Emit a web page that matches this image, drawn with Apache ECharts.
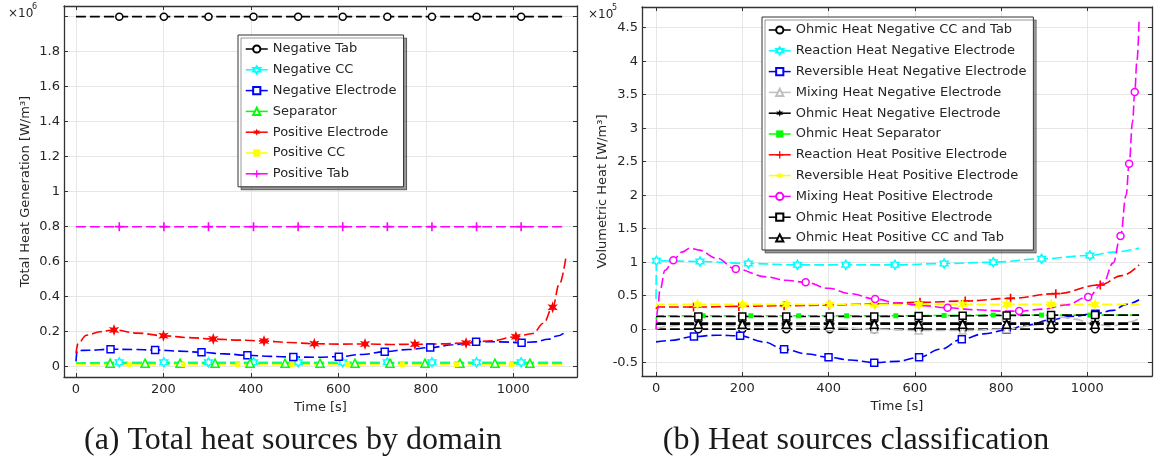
<!DOCTYPE html>
<html><head><meta charset="utf-8">
<script src="https://cdn.jsdelivr.net/npm/echarts@6/dist/echarts.min.js"></script>
<style>html,body{margin:0;padding:0;background:#fff}#c{width:1154px;height:465px}</style>
</head><body><div id="c"></div>
<script>
// ---------- (a) Total heat sources by domain, values in 10^6 W/m^3 ----------
const aTabT    = [0, 99, 201, 303, 406, 508, 610, 712, 814, 916, 1018, 1120];
const aTabM    = [99, 201, 303, 406, 508, 610, 712, 814, 916, 1018];
const aNegTabV = [2.0, 2.0, 2.0, 2.0, 2.0, 2.0, 2.0, 2.0, 2.0, 2.0, 2.0, 2.0];
const aPosTabV = [0.8, 0.8, 0.8, 0.8, 0.8, 0.8, 0.8, 0.8, 0.8, 0.8, 0.8, 0.8];
const aNegCCV  = [0.02, 0.025, 0.025, 0.025, 0.025, 0.025, 0.025, 0.025, 0.025, 0.025, 0.025, 0.025];

const aSepT = [0, 78, 158, 238, 318, 398, 478, 558, 638, 718, 798, 878, 958, 1038, 1120];
const aSepV = [0.02, 0.02, 0.02, 0.02, 0.02, 0.02, 0.02, 0.02, 0.02, 0.02, 0.02, 0.02, 0.02, 0.02, 0.02];
const aSepM = [78, 158, 238, 318, 398, 478, 558, 638, 718, 798, 878, 958, 1038];

const aPosCCT = [0, 122, 246, 370, 494, 621, 746, 870, 995, 1120];
const aPosCCV = [0.012, 0.012, 0.012, 0.012, 0.012, 0.012, 0.012, 0.012, 0.012, 0.012];
const aPosCCM = [122, 246, 370, 494, 621, 746, 870, 995];

const aNegElT = [0, 3, 30, 79, 130, 181, 235, 287, 340, 392, 445, 497, 550, 601, 655, 706, 760, 810, 862, 915, 968, 1019, 1050, 1080, 1100, 1120];
const aNegElV = [0.03, 0.092, 0.094, 0.1, 0.098, 0.095, 0.089, 0.082, 0.073, 0.065, 0.059, 0.055, 0.054, 0.057, 0.07, 0.086, 0.098, 0.109, 0.125, 0.143, 0.142, 0.137, 0.142, 0.157, 0.175, 0.2];
const aNegElM = [79, 181, 287, 392, 497, 601, 706, 810, 915, 1019];

const aPosElT = [0, 5, 24, 55, 87, 140, 200, 257, 314, 372, 430, 488, 545, 603, 661, 718, 775, 834, 892, 950, 1006, 1045, 1069, 1090, 1105, 1120];
const aPosElV = [0.076, 0.134, 0.18, 0.2, 0.21, 0.192, 0.177, 0.166, 0.158, 0.152, 0.147, 0.138, 0.131, 0.129, 0.13, 0.127, 0.128, 0.13, 0.135, 0.148, 0.171, 0.19, 0.248, 0.339, 0.47, 0.62];
const aPosElM = [87, 200, 314, 430, 545, 661, 775, 892, 1006, 1090];

// ---------- (b) Heat sources classification, values in 10^5 W/m^3 ----------
const bBlkT = [0, 98, 200, 302, 403, 506, 609, 711, 813, 916, 1018, 1120];
const bBlkM = [98, 200, 302, 403, 506, 609, 711, 813, 916, 1018];
const bOhmNegCCV = [0, 0, 0, 0, 0, 0, 0, 0, 0, 0, 0, 0];
const bOhmNegElV = [0.09, 0.09, 0.09, 0.09, 0.09, 0.09, 0.09, 0.09, 0.09, 0.09, 0.09, 0.09];
const bOhmPosElV = [0.19, 0.19, 0.19, 0.19, 0.19, 0.19, 0.195, 0.2, 0.205, 0.21, 0.21, 0.21];
const bOhmPosCCV = [0.075, 0.075, 0.075, 0.075, 0.075, 0.075, 0.075, 0.075, 0.075, 0.075, 0.075, 0.075];

const bReacNegT = [0, 1, 102, 214, 328, 440, 554, 668, 782, 894, 1006, 1060, 1120];
const bReacNegV = [0.45, 1.02, 1.01, 0.98, 0.96, 0.96, 0.96, 0.98, 1.0, 1.05, 1.1, 1.15, 1.21];
const bReacNegM = [1, 102, 214, 328, 440, 554, 668, 782, 894, 1006];

const bRevNegT = [0, 32, 88, 140, 195, 250, 297, 350, 400, 450, 506, 560, 610, 660, 709, 760, 813, 860, 916, 960, 1019, 1060, 1090, 1120];
const bRevNegV = [-0.19, -0.17, -0.11, -0.09, -0.1, -0.19, -0.3, -0.37, -0.42, -0.46, -0.5, -0.48, -0.42, -0.3, -0.15, -0.07, -0.01, 0.06, 0.14, 0.19, 0.23, 0.28, 0.37, 0.44];
const bRevNegM = [88, 195, 297, 400, 506, 610, 709, 813, 916, 1019];

const bMixNegT = [0, 20, 60, 98, 200, 302, 403, 506, 609, 711, 813, 880, 916, 940, 970, 1018, 1060, 1100, 1120];
const bMixNegV = [0.0, 0.04, 0.06, 0.06, 0.05, 0.05, 0.03, 0.0, -0.02, -0.02, 0.0, 0.06, 0.14, 0.18, 0.15, 0.07, 0.05, 0.11, 0.16];

const bOhmSepT = [0, 3, 109, 220, 331, 442, 556, 668, 782, 894, 1006, 1120];
const bOhmSepV = [0.15, 0.2, 0.2, 0.2, 0.2, 0.2, 0.2, 0.205, 0.21, 0.21, 0.21, 0.21];
const bOhmSepM = [109, 220, 331, 442, 556, 668, 782, 894, 1006];

const bReacPosT = [0, 3, 87, 192, 297, 402, 507, 612, 717, 822, 927, 1030, 1080, 1120];
const bReacPosV = [0.3, 0.33, 0.33, 0.34, 0.35, 0.36, 0.38, 0.4, 0.42, 0.46, 0.53, 0.66, 0.8, 0.96];
const bReacPosM = [87, 192, 297, 402, 507, 612, 717, 822, 927, 1030];

const bRevPosT = [0, 3, 96, 200, 302, 403, 506, 609, 711, 813, 916, 1018, 1120];
const bRevPosV = [0.33, 0.37, 0.37, 0.37, 0.37, 0.37, 0.37, 0.37, 0.37, 0.37, 0.37, 0.37, 0.37];
const bRevPosM = [96, 200, 302, 403, 506, 609, 711, 813, 916, 1018];

const bMixPosT = [0, 4, 9, 21, 40, 60, 79, 100, 140, 185, 257, 300, 347, 400, 450, 508, 560, 620, 676, 740, 800, 842, 900, 950, 1002, 1037, 1060, 1077, 1090, 1097, 1105, 1110, 1115, 1120];
const bMixPosV = [0.0, 0.3, 0.58, 0.88, 1.03, 1.15, 1.21, 1.18, 1.06, 0.9, 0.78, 0.73, 0.7, 0.61, 0.53, 0.45, 0.39, 0.35, 0.32, 0.29, 0.27, 0.27, 0.3, 0.36, 0.48, 0.69, 0.99, 1.39, 2.0, 2.47, 3.1, 3.54, 4.0, 4.6];
const bMixPosM = [40, 185, 347, 508, 676, 842, 1002, 1077, 1097, 1110];

const xTitle = 'Time [s]';
const aYTitle = 'Total Heat Generation [W/m³]';
const bYTitle = 'Volumetric Heat [W/m³]';

// ---------- symbols ----------
const STAR6 = 'path://M0,-10L2.2,-3.8L8.66,-5L4.4,0L8.66,5L2.2,3.8L0,10L-2.2,3.8L-8.66,5L-4.4,0L-8.66,-5L-2.2,-3.8Z';
const HEXA = 'path://M0,-10L2.885,-5L8.66,-5L5.77,0L8.66,5L2.885,5L0,10L-2.885,5L-8.66,5L-5.77,0L-8.66,-5L-2.885,-5Z';
const PLUS = 'path://M-1.8,-10L1.8,-10L1.8,-1.8L10,-1.8L10,1.8L1.8,1.8L1.8,10L-1.8,10L-1.8,1.8L-10,1.8L-10,-1.8L-1.8,-1.8Z';

const FONT = 'DejaVu Sans';
const TXT = '#262626';

function pts(T, V, M) {
  return T.map((t, i) => M.indexOf(t) >= 0 ? { value: [t, V[i]] } : { value: [t, V[i]], symbol: 'none' });
}
function ser(name, g, T, V, M, color, symbol, size, hollow) {
  return {
    name, type: 'line', xAxisIndex: g * 2, yAxisIndex: g * 2,
    data: pts(T, V, M), smooth: 0.4, smoothMonotone: 'x',
    showSymbol: true, showAllSymbol: true, symbol, symbolSize: size, symbolKeepAspect: true,
    lineStyle: { color, width: 1.6, type: [10, 4] },
    itemStyle: hollow ? { color: '#fff', borderColor: color, borderWidth: 1.5 } : { color, borderColor: color, borderWidth: 0 },
    emphasis: { disabled: true }, animation: false, clip: true
  };
}

const series = [
  ser('Negative Tab', 0, aTabT, aNegTabV, aTabM, '#000000', 'circle', 7, true),
  ser('Negative CC', 0, aTabT, aNegCCV, aTabM, '#00ffff', HEXA, 9, true),
  ser('Negative Electrode', 0, aNegElT, aNegElV, aNegElM, '#0000ff', 'rect', 7, true),
  ser('Separator', 0, aSepT, aSepV, aSepM, '#00ff00', 'triangle', 8, true),
  ser('Positive Electrode', 0, aPosElT, aPosElV, aPosElM, '#ff0000', STAR6, 12, false),
  ser('Positive CC', 0, aPosCCT, aPosCCV, aPosCCM, '#ffff00', 'rect', 5, false),
  ser('Positive Tab', 0, aTabT, aPosTabV, aTabM, '#ff00ff', PLUS, 9, false),

  ser('Ohmic Heat Negative CC and Tab', 1, bBlkT, bOhmNegCCV, bBlkM, '#000000', 'circle', 7, true),
  ser('Reaction Heat Negative Electrode', 1, bReacNegT, bReacNegV, bReacNegM, '#00ffff', HEXA, 9, true),
  ser('Reversible Heat Negative Electrode', 1, bRevNegT, bRevNegV, bRevNegM, '#0000ff', 'rect', 7, true),
  ser('Mixing Heat Negative Electrode', 1, bMixNegT, bMixNegV, bBlkM, '#c0c0c0', 'triangle', 7, true),
  ser('Ohmic Heat Negative Electrode', 1, bBlkT, bOhmNegElV, bBlkM, '#000000', STAR6, 11, false),
  ser('Ohmic Heat Separator', 1, bOhmSepT, bOhmSepV, bOhmSepM, '#00ff00', 'rect', 5, false),
  ser('Reaction Heat Positive Electrode', 1, bReacPosT, bReacPosV, bReacPosM, '#ff0000', PLUS, 9, false),
  ser('Reversible Heat Positive Electrode', 1, bRevPosT, bRevPosV, bRevPosM, '#ffff00', STAR6, 12, false),
  ser('Mixing Heat Positive Electrode', 1, bMixPosT, bMixPosV, bMixPosM, '#ff00ff', 'circle', 7, true),
  ser('Ohmic Heat Positive Electrode', 1, bBlkT, bOhmPosElV, bBlkM, '#000000', 'rect', 7, true),
  ser('Ohmic Heat Positive CC and Tab', 1, bBlkT, bOhmPosCCV, bBlkM, '#000000', 'triangle', 8, true)
];

const FRAME = { show: true, onZero: false, lineStyle: { color: '#333', width: 1.3 } };
const TICK = { show: true, inside: true, length: 4, lineStyle: { color: '#333', width: 1 } };
const SPLIT = { show: true, lineStyle: { color: '#e6e6e6', width: 1 } };
const LBL = { color: TXT, fontSize: 13, fontFamily: FONT, showMinLabel: false, showMaxLabel: false };
const num = v => String(+(+v).toFixed(6));

function xPair(g, min, max) {
  return [
    { gridIndex: g, type: 'value', min, max, splitNumber: 5, position: 'bottom',
      name: xTitle, nameLocation: 'middle', nameGap: 19,
      nameTextStyle: { color: TXT, fontSize: 13, fontFamily: FONT },
      axisLine: FRAME, axisTick: TICK, splitLine: SPLIT, axisLabel: Object.assign({ margin: 6, formatter: num }, LBL) },
    { gridIndex: g, type: 'value', min, max, splitNumber: 5, position: 'top',
      axisLine: FRAME, axisTick: TICK, splitLine: { show: false }, axisLabel: { show: false } }
  ];
}
function yPair(g, min, max, split, name, hideVal) {
  return [
    { gridIndex: g, type: 'value', min, max, splitNumber: split, position: 'left',
      name, nameLocation: 'middle', nameGap: 32,
      nameTextStyle: { color: TXT, fontSize: 13, fontFamily: FONT },
      axisLine: FRAME, axisTick: TICK, splitLine: SPLIT,
      axisLabel: Object.assign({ margin: 4, formatter: v => (hideVal !== null && Math.abs(v - hideVal) < 1e-9) ? '' : num(v) }, LBL) },
    { gridIndex: g, type: 'value', min, max, splitNumber: split, position: 'right',
      axisLine: FRAME, axisTick: TICK, splitLine: { show: false }, axisLabel: { show: false } }
  ];
}

function legend(names, left, top, padding) {
  return {
    data: names, orient: 'vertical', left, top, padding,
    itemWidth: 22, itemHeight: 9, itemGap: 6.8, selectedMode: false,
    backgroundColor: '#fff', borderColor: '#333', borderWidth: 1,
    shadowColor: 'rgba(0,0,0,0.4)', shadowBlur: 0.5, shadowOffsetX: 3, shadowOffsetY: 3,
    textStyle: { color: TXT, fontSize: 13, fontFamily: FONT, lineHeight: 14 },
    lineStyle: { type: 'solid', width: 1.5 }
  };
}

const option = {
  animation: false,
  backgroundColor: '#fff',
  grid: [
    { left: 64, top: 6, width: 513, height: 371 },
    { left: 642, top: 7, width: 510, height: 369 }
  ],
  xAxis: [].concat(xPair(0, -27.4, 1145.7), xPair(1, -32.5, 1150)),
  yAxis: [].concat(yPair(0, -0.059, 2.061, 10, aYTitle, 2), yPair(1, -0.699, 4.809, 11, bYTitle, null)),
  legend: [
    legend(series.slice(0, 7).map(s => s.name), 238, 35, [7, 7, 6, 7]),
    legend(series.slice(7).map(s => s.name), 762, 17, [6, 7, 5, 6])
  ],
  graphic: [
    { type: 'text', x: 8, y: 8, style: { text: '×10', font: '12px "DejaVu Sans"', fill: TXT } },
    { type: 'text', x: 32, y: 3, style: { text: '6', font: '8px "DejaVu Sans"', fill: TXT } },
    { type: 'text', x: 588, y: 9, style: { text: '×10', font: '12px "DejaVu Sans"', fill: TXT } },
    { type: 'text', x: 612, y: 4, style: { text: '5', font: '8px "DejaVu Sans"', fill: TXT } },
    { type: 'text', x: 293, y: 441, style: { text: '(a) Total heat sources by domain', font: '32px "Liberation Serif"', fill: '#1a1a1a', align: 'center', verticalAlign: 'middle', textAlign: 'center', textVerticalAlign: 'middle' } },
    { type: 'text', x: 856, y: 441, style: { text: '(b) Heat sources classification', font: '32px "Liberation Serif"', fill: '#1a1a1a', align: 'center', verticalAlign: 'middle', textAlign: 'center', textVerticalAlign: 'middle' } }
  ],
  series
};

const chart = echarts.init(document.getElementById('c'), null, { renderer: 'canvas' });
chart.setOption(option);
</script>
</body></html>
